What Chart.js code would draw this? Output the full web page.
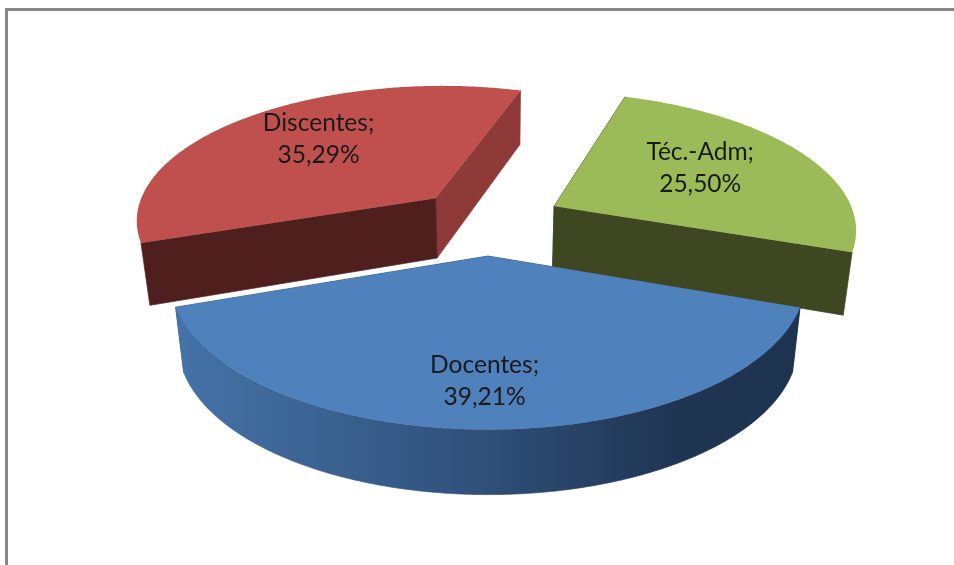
<!DOCTYPE html>
<html>
<head>
<meta charset="utf-8">
<style>
    html, body { margin: 0; padding: 0; background: #fff; }
    canvas { display: block; }
</style>
<script src="https://cdn.jsdelivr.net/npm/chart.js@4"></script>
</head>
<body>
<canvas id="pie" width="954" height="565"></canvas>
<script>
var categories = ['Docentes', 'Discentes', 'Téc.-Adm'];
var percents = [39.21, 35.29, 25.50];

var faceColors = ['#4f81bd', '#c0504d', '#9bbb59'];
var wallColors = ['#2f4f78', '#4f1f1e', '#3f4722'];
var edgeColors = ['#2f4f78', '#8e3a38', '#3f4722'];

// the source is a 3d excel pie, these fake its camera
var explode = 75;
var flatten = 0.449;
var perspX = 0.0005;
var perspY = 0.0005;

// point on the pie plane, t is the fraction of the radius
function project(arc, angle, tx, ty)
{
    var half = (arc.startAngle + arc.endAngle) / 2;
    var u = Math.cos(half) * explode + Math.cos(angle) * arc.outerRadius * tx;
    var v = Math.sin(half) * explode + Math.sin(angle) * arc.outerRadius * ty;
    return {
        x: arc.x + u / (1 - perspX * v),
        y: arc.y + flatten * v / (1 - perspY * v)
    };
}

function bottomOf(p)
{
    var depth = Math.min(65, 54 + (p.y - 91) * 0.055);
    return { x: 497 + (p.x - 497) * 0.975, y: p.y + depth };
}

function fillWall(ctx, points, color)
{
    var k;
    ctx.beginPath();
    for (k = 0; k < points.length; k++) {
        ctx.lineTo(points[k].x, points[k].y);
    }
    for (k = points.length - 1; k >= 0; k--) {
        var b = bottomOf(points[k]);
        ctx.lineTo(b.x, b.y);
    }
    ctx.closePath();
    ctx.fillStyle = color;
    ctx.strokeStyle = color;
    ctx.lineWidth = 0.7;
    ctx.fill();
    ctx.stroke();
}

function drawWalls(ctx, arc, i)
{
    var apex = project(arc, 0, 0, 0);

    fillWall(ctx, [apex, project(arc, arc.endAngle, 1, 1)], edgeColors[i]);
    fillWall(ctx, [apex, project(arc, arc.startAngle, 1, 1)], wallColors[i]);

    // rim wall only shows on the slice facing the viewer
    if (arc.startAngle > Math.PI / 2 || arc.endAngle < Math.PI / 2) {
        return;
    }
    var points = [];
    var a;
    for (a = arc.startAngle; a <= arc.endAngle; a += 0.01) {
        if (a >= 0 && a <= Math.PI) {
            points.push(project(arc, a, 1, 1));
        }
    }
    var grad = ctx.createLinearGradient(points[points.length - 1].x, 0, points[0].x, 0);
    grad.addColorStop(0, '#4573a8');
    grad.addColorStop(0.5, '#2f4f78');
    grad.addColorStop(0.8, '#1f3552');
    grad.addColorStop(1, '#1e3350');
    fillWall(ctx, points, grad);
}

function drawFace(ctx, arc)
{
    var apex = project(arc, 0, 0, 0);
    var a, p;
    ctx.beginPath();
    ctx.moveTo(apex.x, apex.y);
    for (a = arc.startAngle; a < arc.endAngle; a += 0.01) {
        p = project(arc, a, 1, 1);
        ctx.lineTo(p.x, p.y);
    }
    p = project(arc, arc.endAngle, 1, 1);
    ctx.lineTo(p.x, p.y);
    ctx.closePath();
    ctx.fillStyle = arc.options.backgroundColor;
    ctx.fill();
}

var frame = {
    id: 'frame',
    beforeDraw: function (chart) {
        var ctx = chart.ctx;
        ctx.save();
        ctx.fillStyle = '#888888';
        ctx.fillRect(5, 8, chart.width - 5, 3);
        ctx.fillRect(5, 8, 3, chart.height - 8);
        ctx.restore();
    }
};

var pie3d = {
    id: 'pie3d',
    beforeDatasetDraw: function (chart, args) {
        var ctx = chart.ctx;
        var arcs = args.meta.data;
        var i;
        ctx.save();
        for (i = 0; i < arcs.length; i++) {
            drawWalls(ctx, arcs[i], i);
        }
        for (i = 0; i < arcs.length; i++) {
            drawFace(ctx, arcs[i]);
        }
        ctx.restore();
        return false;
    },
    afterDatasetsDraw: function (chart) {
        var ctx = chart.ctx;
        var arcs = chart.getDatasetMeta(0).data;
        var i;
        ctx.save();
        ctx.font = '24.5px Lato';
        ctx.fillStyle = '#1a1a1a';
        ctx.textAlign = 'center';
        ctx.textBaseline = 'middle';
        for (i = 0; i < arcs.length; i++) {
            var half = (arcs[i].startAngle + arcs[i].endAngle) / 2;
            var p = project(arcs[i], half, 0.6, 0.74);
            ctx.fillText(categories[i] + ';', p.x - 3, p.y - 13);
            ctx.fillText(percents[i].toFixed(2).replace('.', ',') + '%', p.x - 3, p.y + 19);
        }
        ctx.restore();
    }
};

new Chart(document.getElementById('pie'), {
    type: 'pie',
    data: {
        labels: categories,
        datasets: [{
            data: percents,
            backgroundColor: faceColors,
            borderWidth: 0,
            radius: 302,
            rotation: 109.5
        }]
    },
    options: {
        responsive: false,
        animation: false,
        layout: { padding: { left: 22, bottom: 123 } },
        plugins: {
            legend: { display: false },
            tooltip: { enabled: false }
        }
    },
    plugins: [frame, pie3d]
});
</script>
</body>
</html>
